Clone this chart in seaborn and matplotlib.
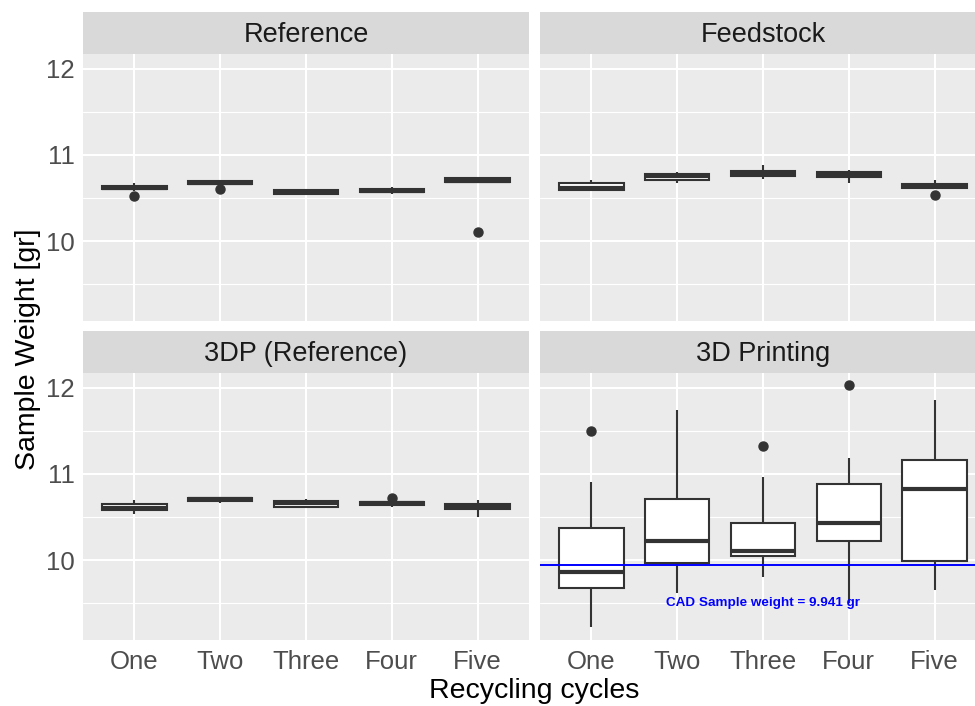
import pandas as pd
import matplotlib.pyplot as plt
from matplotlib.patches import Rectangle
from matplotlib.ticker import MultipleLocator, FixedLocator
import seaborn as sns

# recycling cycle categories and facet names
cycles = ["One", "Two", "Three", "Four", "Five"]
panels = ["Reference", "Feedstock", "3DP (Reference)", "3D Printing"]

# sample weights [gr] per cycle
reference = [
    [10.52, 10.585, 10.60, 10.61, 10.62, 10.63, 10.64, 10.655, 10.67],
    [10.60, 10.66, 10.667, 10.675, 10.68, 10.69, 10.695, 10.70, 10.705],
    [10.54, 10.542, 10.545, 10.555, 10.565, 10.58, 10.59, 10.592, 10.595],
    [10.545, 10.555, 10.567, 10.575, 10.585, 10.595, 10.605, 10.62, 10.63],
    [10.11, 10.67, 10.684, 10.69, 10.70, 10.71, 10.729, 10.735, 10.74],
]
feedstock = [
    [10.59, 10.593, 10.597, 10.61, 10.62, 10.64, 10.671, 10.69, 10.71],
    [10.68, 10.70, 10.709, 10.74, 10.76, 10.775, 10.783, 10.795, 10.806],
    [10.717, 10.74, 10.76, 10.78, 10.79, 10.80, 10.817, 10.85, 10.884],
    [10.67, 10.72, 10.74, 10.77, 10.78, 10.79, 10.80, 10.81, 10.826],
    [10.54, 10.60, 10.62, 10.63, 10.64, 10.65, 10.66, 10.68, 10.71],
]
dp_reference = [
    [10.535, 10.56, 10.585, 10.60, 10.61, 10.63, 10.648, 10.67, 10.70],
    [10.666, 10.68, 10.69, 10.70, 10.71, 10.715, 10.724, 10.727, 10.73],
    [10.60, 10.605, 10.613, 10.64, 10.66, 10.67, 10.683, 10.70, 10.713],
    [10.62, 10.635, 10.645, 10.65, 10.66, 10.665, 10.67, 10.68, 10.72],
    [10.50, 10.55, 10.59, 10.61, 10.63, 10.64, 10.655, 10.68, 10.70],
]
printing = [
    [9.22, 9.45, 9.67, 9.78, 9.86, 10.10, 10.37, 10.91, 11.50],
    [9.62, 9.80, 9.97, 10.08, 10.22, 10.45, 10.71, 11.20, 11.74],
    [9.80, 9.95, 10.05, 10.08, 10.10, 10.25, 10.43, 10.96, 11.33],
    [9.50, 9.90, 10.22, 10.30, 10.43, 10.65, 10.88, 11.19, 12.03],
    [9.65, 9.85, 9.99, 10.40, 10.82, 11.00, 11.16, 11.50, 11.86],
]
cad_weight = 9.941
cad_label = "CAD Sample weight = 9.941 gr"

rows = []
for panel, groups in zip(panels, [reference, feedstock, dp_reference, printing]):
    for cycle, vals in zip(cycles, groups):
        for v in vals:
            rows.append((panel, cycle, v))
df = pd.DataFrame(rows, columns=["panel", "cycle", "weight"])

sns.set_theme(style="darkgrid")
plt.rcParams["font.family"] = ["Liberation Sans", "DejaVu Sans"]

W, H = 975, 706
fig = plt.figure(figsize=(W / 100, H / 100), dpi=100)

# panel boxes in pixels: left, top, right, bottom
layout = {
    "Reference": (83, 54, 529, 321),
    "Feedstock": (540, 54, 986, 321),
    "3DP (Reference)": (83, 373, 529, 640),
    "3D Printing": (540, 373, 986, 640),
}
strip_h = 42

for i, panel in enumerate(panels):
    l, t, r, b = layout[panel]
    ax = fig.add_axes([l / W, 1 - b / H, (r - l) / W, (b - t) / H])
    ax.set_facecolor("#EBEBEB")
    sns.boxplot(
        data=df[df["panel"] == panel], x="cycle", y="weight", order=cycles,
        ax=ax, width=0.75, color="white", linecolor="#333333", linewidth=1.5,
        fliersize=6.5, showcaps=False,
        medianprops=dict(linewidth=3.0, color="#333333"),
        flierprops=dict(marker="o", markerfacecolor="#333333",
                        markeredgecolor="#333333"),
    )
    ax.set_xlim(-0.6, 4.6)
    ax.set_ylim(9.07, 12.174)
    ax.yaxis.set_major_locator(FixedLocator([10, 11, 12]))
    ax.yaxis.set_minor_locator(MultipleLocator(0.5))
    ax.grid(which="major", color="white", linewidth=1.5)
    ax.grid(which="minor", axis="y", color="white", linewidth=0.8)
    ax.grid(which="minor", axis="x", visible=False)
    ax.set_axisbelow(True)
    for s in ax.spines.values():
        s.set_visible(False)
    ax.set_xlabel("")
    ax.set_ylabel("")
    ax.tick_params(which="minor", length=0)
    ax.tick_params(which="major", labelsize=18.5, labelcolor="#4D4D4D",
                   color="#333333", length=3.5, width=1.0, pad=2.5)
    ax.tick_params(axis="x", pad=4)
    if i % 2 == 1:
        ax.tick_params(axis="y", length=0, labelleft=False)
    if i < 2:
        ax.tick_params(axis="x", length=0, labelbottom=False)

    # facet strip
    h = strip_h / (b - t)
    ax.add_patch(Rectangle((0, 1), 1, h, transform=ax.transAxes,
                           facecolor="#D9D9D9", edgecolor="none", clip_on=False))
    ax.text(0.5, 1 + (strip_h / 2 - 2) / (b - t), panel, transform=ax.transAxes,
            ha="center", va="center", fontsize=19.5, color="#1A1A1A")

    if panel == "3D Printing":
        ax.axhline(cad_weight, color="blue", linewidth=1.4, zorder=5)
        ax.text(2, 9.5, cad_label, color="blue", fontsize=9.7,
                fontweight="bold", ha="center", va="center", zorder=6)

fig.text(28 / W, 1 - 349 / H, "Sample Weight [gr]", rotation=90,
         ha="center", va="center", fontsize=20.5, color="black")
fig.text(534 / W, 1 - 691 / H, "Recycling cycles", ha="center",
         va="center", fontsize=20.5, color="black")

fig.savefig("out.png", dpi=100)
